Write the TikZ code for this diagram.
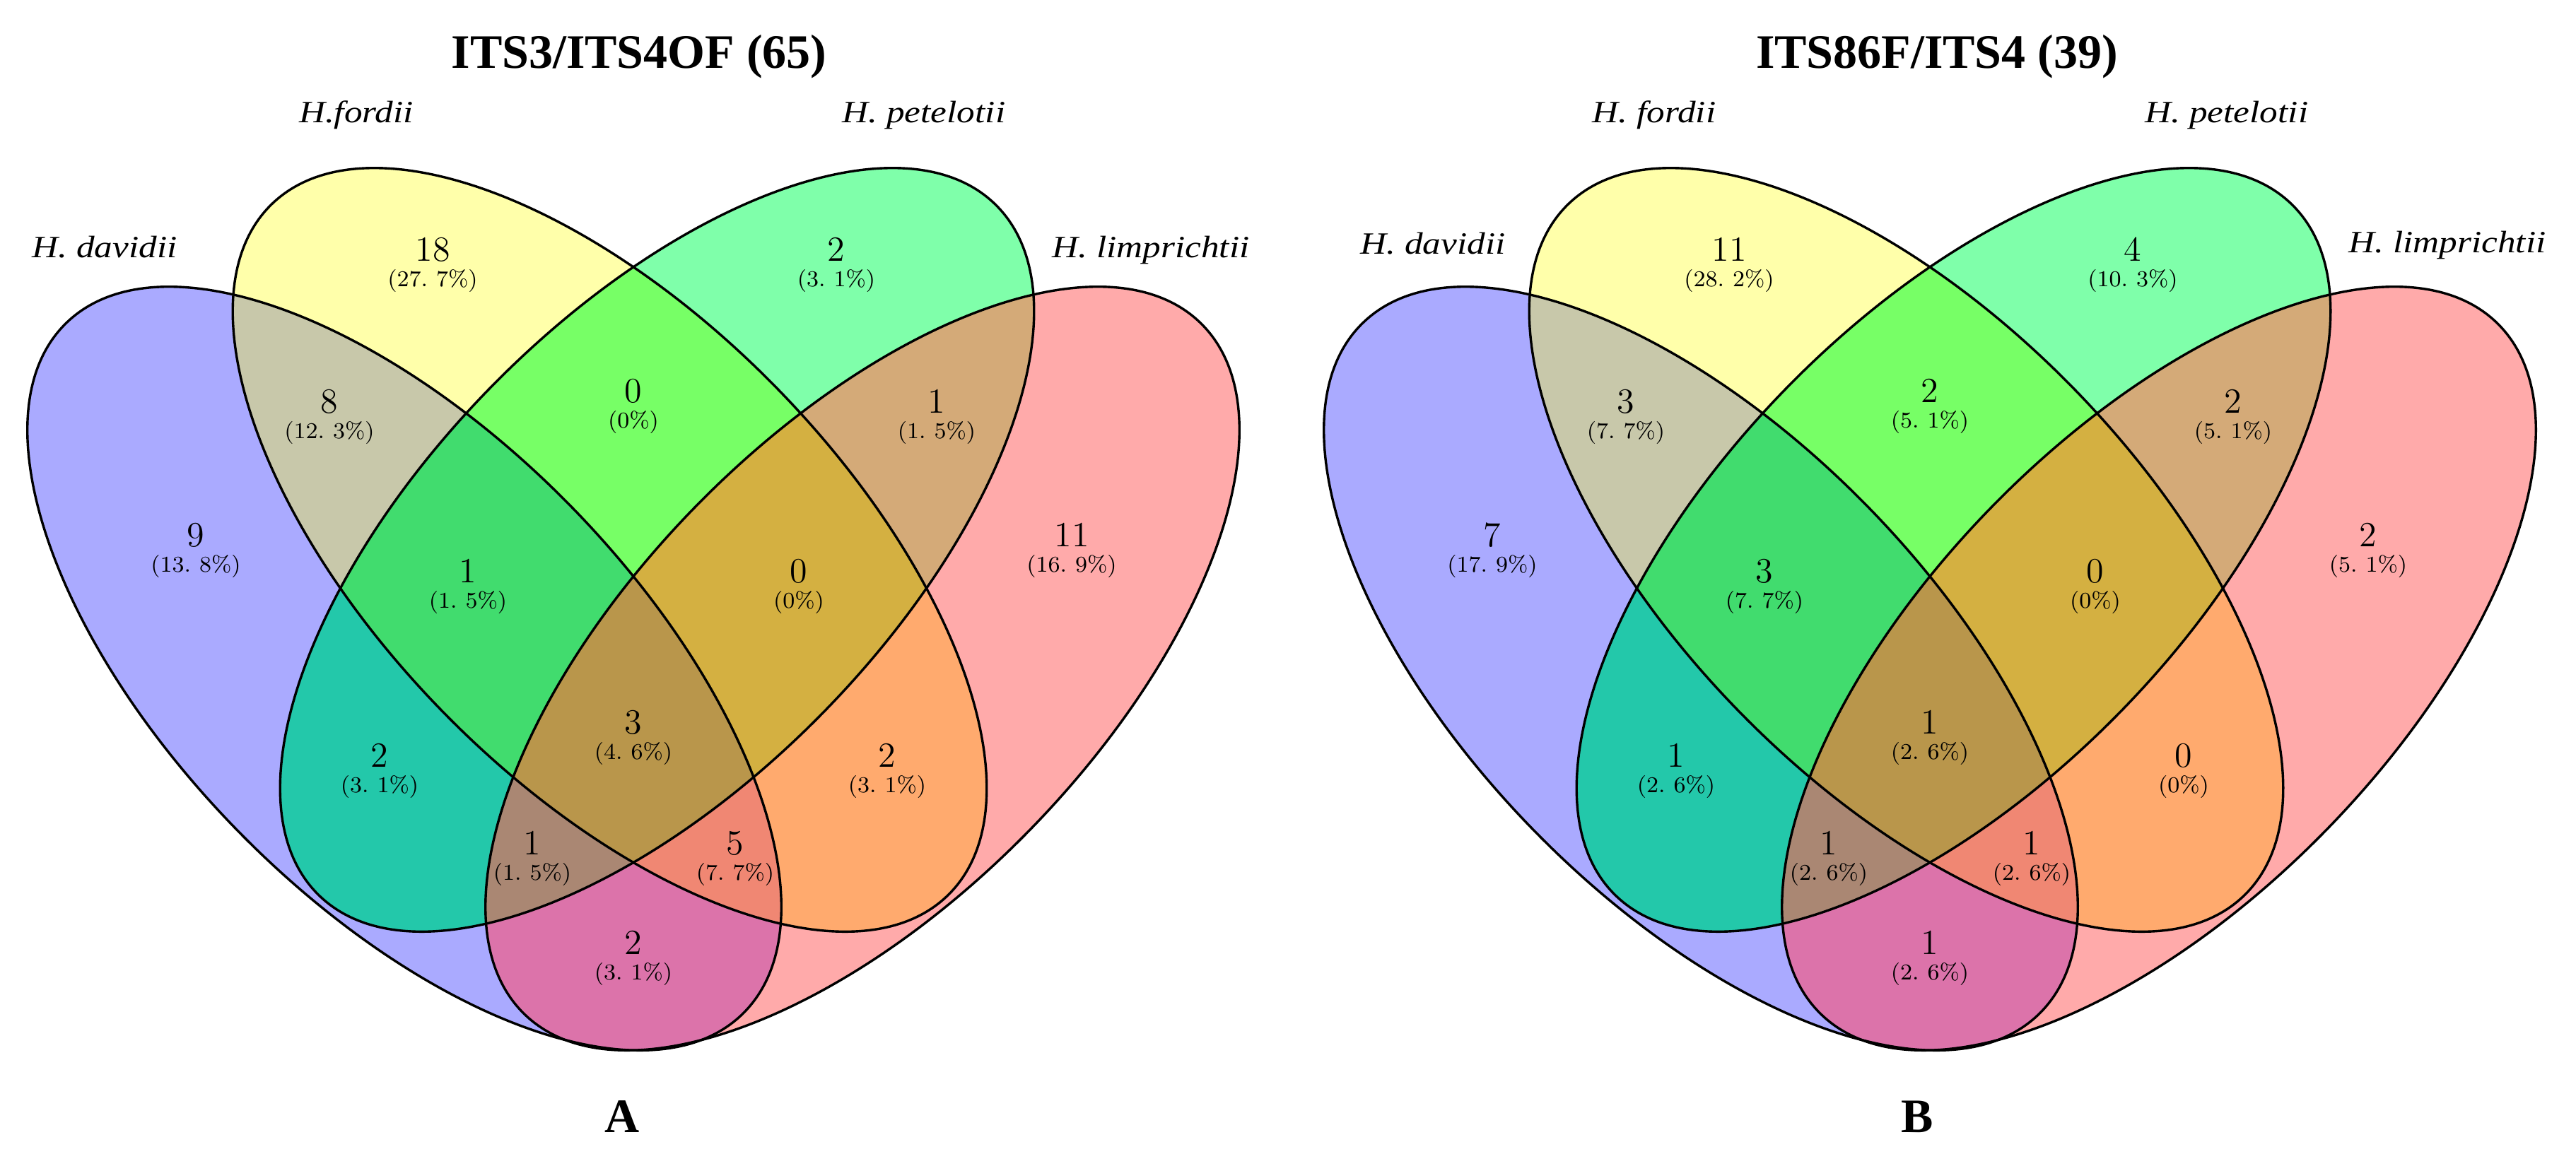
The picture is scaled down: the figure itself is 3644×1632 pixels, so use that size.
\documentclass[tikz,border=0pt]{standalone}
\usepackage{fontspec}
\newfontfamily\ttlfont{Liberation Serif}
\newfontfamily\labfont[FakeStretch=1.17]{Liberation Serif}
\definecolor{cD}{HTML}{AAAAFF}
\definecolor{cF}{HTML}{FFFFAA}
\definecolor{cP}{HTML}{7FFFAA}
\definecolor{cL}{HTML}{FFAAAA}
\definecolor{cDF}{HTML}{C8C8AA}
\definecolor{cFP}{HTML}{77FF66}
\definecolor{cPL}{HTML}{D4AA78}
\definecolor{cDP}{HTML}{23C8AA}
\definecolor{cFL}{HTML}{FFAA6E}
\definecolor{cDL}{HTML}{DC73AA}
\definecolor{cDFP}{HTML}{41DC6E}
\definecolor{cFPL}{HTML}{D4B041}
\definecolor{cDPL}{HTML}{AA8773}
\definecolor{cDFL}{HTML}{F08773}
\definecolor{cDFPL}{HTML}{B9964B}
\tikzset{
  outl/.style={draw=black, line width=0.85pt},
  num/.style={inner sep=0pt, font=\fontsize{12.5}{14}\selectfont},
  pct/.style={inner sep=0pt, font=\fontsize{8}{10}\selectfont},
  lab/.style={inner sep=0pt, anchor=base, font=\labfont\itshape\fontsize{10.95}{13}\selectfont},
  ttl/.style={inner sep=0pt, anchor=base, font=\ttlfont\bfseries\fontsize{17}{20}\selectfont},
}
\newcommand\dt{.\kern3pt}
\newcommand\ClipE[2]{\clip[rotate around={#2:(#1)}] (#1) ellipse (171pt and 82.25pt);}
\newcommand\FillE[3]{\fill[#3, rotate around={#2:(#1)}] (#1) ellipse (171pt and 82.25pt);}
\newcommand\DrawE[2]{\draw[outl, rotate around={#2:(#1)}] (#1) ellipse (171pt and 82.25pt);}
\newcommand\reglab[5]{\node[num] (#1n) at (#2,#3) {#4};\node[pct] (#1q) at (#2,#3+44) {#5};}
\newcommand\vennshapes[2]{%
  \coordinate (#2d) at (572+#1,946);
  \coordinate (#2f) at (862.5+#1,778);
  \coordinate (#2p) at (929.5+#1,778);
  \coordinate (#2l) at (1220+#1,946);
  % single sets
  \FillE{#2d}{-45.6}{cD}
  \FillE{#2f}{-45.6}{cF}
  \FillE{#2p}{45.6}{cP}
  \FillE{#2l}{45.6}{cL}
  % pairs
  \begin{scope}\ClipE{#2d}{-45.6}\FillE{#2f}{-45.6}{cDF}\end{scope}
  \begin{scope}\ClipE{#2f}{-45.6}\FillE{#2p}{45.6}{cFP}\end{scope}
  \begin{scope}\ClipE{#2p}{45.6}\FillE{#2l}{45.6}{cPL}\end{scope}
  \begin{scope}\ClipE{#2d}{-45.6}\FillE{#2p}{45.6}{cDP}\end{scope}
  \begin{scope}\ClipE{#2f}{-45.6}\FillE{#2l}{45.6}{cFL}\end{scope}
  \begin{scope}\ClipE{#2d}{-45.6}\FillE{#2l}{45.6}{cDL}\end{scope}
  % triples
  \begin{scope}\ClipE{#2d}{-45.6}\ClipE{#2f}{-45.6}\FillE{#2p}{45.6}{cDFP}\end{scope}
  \begin{scope}\ClipE{#2f}{-45.6}\ClipE{#2p}{45.6}\FillE{#2l}{45.6}{cFPL}\end{scope}
  \begin{scope}\ClipE{#2d}{-45.6}\ClipE{#2p}{45.6}\FillE{#2l}{45.6}{cDPL}\end{scope}
  \begin{scope}\ClipE{#2d}{-45.6}\ClipE{#2f}{-45.6}\FillE{#2l}{45.6}{cDFL}\end{scope}
  % all four
  \begin{scope}\ClipE{#2d}{-45.6}\ClipE{#2f}{-45.6}\ClipE{#2p}{45.6}\FillE{#2l}{45.6}{cDFPL}\end{scope}
  % outlines
  \DrawE{#2d}{-45.6}
  \DrawE{#2f}{-45.6}
  \DrawE{#2p}{45.6}
  \DrawE{#2l}{45.6}
}
\begin{document}
\begin{tikzpicture}[x=0.25pt, y=-0.25pt]
\useasboundingbox (0,0) rectangle (3644,1632);
\fill[white] (0,0) rectangle (3644,1632);
% ---------------- panel A ----------------
\vennshapes{0}{A}
\node[ttl] (At) at (904,96) {ITS3/ITS4OF (65)};
\node[ttl] (Ax) at (880,1602) {A};
\node[lab] (Ald) at (148,364) {H. davidii};
\node[lab] (Alf) at (504,173) {H.fordii};
\node[lab] (Alp) at (1307,173) {H. petelotii};
\node[lab] (All) at (1628,364) {H. limprichtii};
\reglab{Ad}{277}{757}{9}{(13\dt8\%)}
\reglab{Af}{612}{353}{18}{(27\dt7\%)}
\reglab{Ap}{1183}{353}{2}{(3\dt1\%)}
\reglab{Al}{1516}{757}{11}{(16\dt9\%)}
\reglab{Adf}{466}{568}{8}{(12\dt3\%)}
\reglab{Afp}{896}{553}{0}{(0\%)}
\reglab{Apl}{1325}{568}{1}{(1\dt5\%)}
\reglab{Adfp}{662}{808}{1}{(1\dt5\%)}
\reglab{Afpl}{1130}{808}{0}{(0\%)}
\reglab{Adp}{537}{1069}{2}{(3\dt1\%)}
\reglab{Aall}{896}{1022}{3}{(4\dt6\%)}
\reglab{Afl}{1255}{1069}{2}{(3\dt1\%)}
\reglab{Adpl}{753}{1193}{1}{(1\dt5\%)}
\reglab{Adfl}{1040}{1193}{5}{(7\dt7\%)}
\reglab{Adl}{896}{1334}{2}{(3\dt1\%)}
% ---------------- panel B ----------------
\vennshapes{1834}{B}
\node[ttl] (Bt) at (2740,96) {ITS86F/ITS4 (39)};
\node[ttl] (Bx) at (2712,1602) {B};
\node[lab] (Bld) at (2027,359) {H. davidii};
\node[lab] (Blf) at (2340,173) {H. fordii};
\node[lab] (Blp) at (3150,173) {H. petelotii};
\node[lab] (Bll) at (3462,357) {H. limprichtii};
\reglab{Bd}{2111}{757}{7}{(17\dt9\%)}
\reglab{Bf}{2446}{353}{11}{(28\dt2\%)}
\reglab{Bp}{3017}{353}{4}{(10\dt3\%)}
\reglab{Bl}{3350}{757}{2}{(5\dt1\%)}
\reglab{Bdf}{2300}{568}{3}{(7\dt7\%)}
\reglab{Bfp}{2730}{553}{2}{(5\dt1\%)}
\reglab{Bpl}{3159}{568}{2}{(5\dt1\%)}
\reglab{Bdfp}{2496}{808}{3}{(7\dt7\%)}
\reglab{Bfpl}{2964}{808}{0}{(0\%)}
\reglab{Bdp}{2371}{1069}{1}{(2\dt6\%)}
\reglab{Ball}{2730}{1022}{1}{(2\dt6\%)}
\reglab{Bfl}{3089}{1069}{0}{(0\%)}
\reglab{Bdpl}{2587}{1193}{1}{(2\dt6\%)}
\reglab{Bdfl}{2874}{1193}{1}{(2\dt6\%)}
\reglab{Bdl}{2730}{1334}{1}{(2\dt6\%)}
\end{tikzpicture}
\end{document}
